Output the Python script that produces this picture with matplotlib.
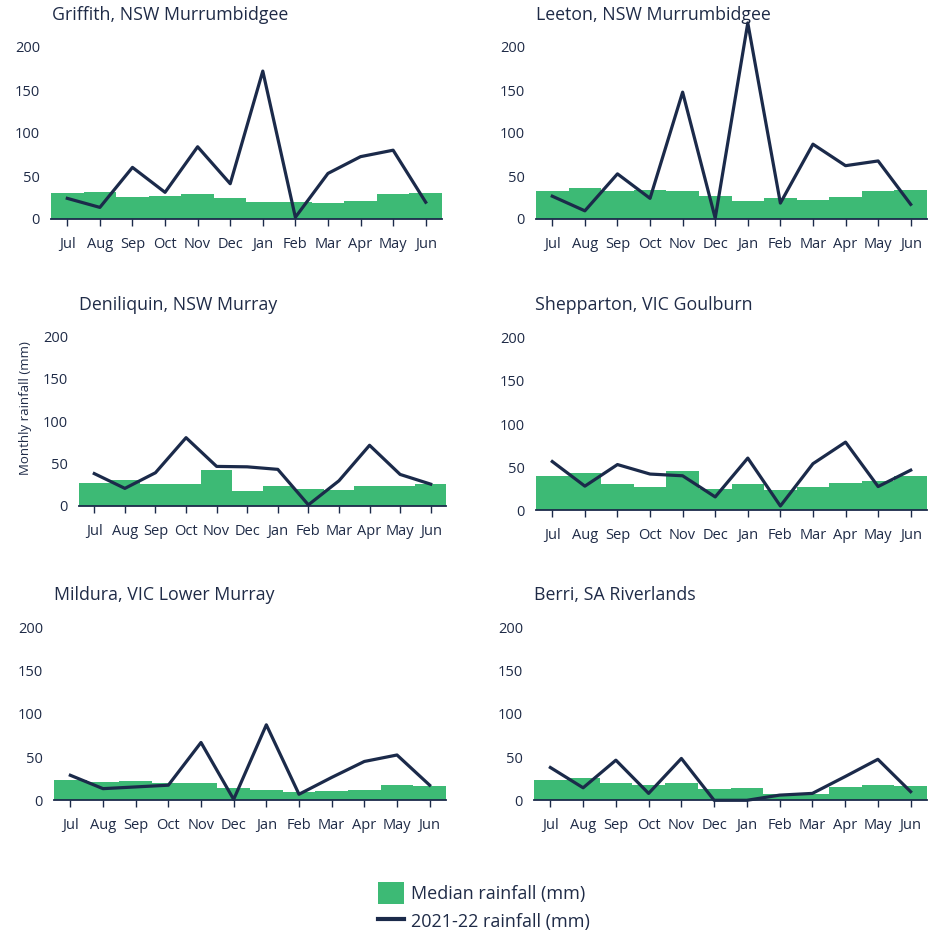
import matplotlib
matplotlib.use("Agg")
import matplotlib.pyplot as plt
from matplotlib.patches import Patch
from matplotlib.lines import Line2D
import numpy as np

plt.rcParams["font.family"] = ["Open Sans", "DejaVu Sans"]

months = ["Jul", "Aug", "Sep", "Oct", "Nov", "Dec", "Jan", "Feb", "Mar", "Apr", "May", "Jun"]

stations = ["Griffith, NSW Murrumbidgee", "Leeton, NSW Murrumbidgee",
            "Deniliquin, NSW Murray", "Shepparton, VIC Goulburn",
            "Mildura, VIC Lower Murray", "Berri, SA Riverlands"]

# median monthly rainfall (mm)
griffith_median = [30, 31, 26, 27, 28.5, 25, 20, 19.5, 19, 21, 29, 30]
leeton_median = [33, 35.5, 32, 34, 32, 26.5, 21, 24, 22.5, 26, 33, 34]
deniliquin_median = [26.5, 31, 25.5, 26, 42, 17.5, 23, 20, 18.5, 23, 23.5, 26]
shepparton_median = [40, 43, 30.5, 27, 45.5, 25, 30.5, 23.5, 26.5, 31.5, 34.5, 40]
mildura_median = [23, 21, 22, 20.5, 19.5, 14, 12.5, 9.5, 11, 12.5, 18, 17]
berri_median = [24, 25.5, 19.5, 18, 19.5, 13, 14, 7.5, 7, 15.5, 17.5, 17]

# 2021-22 monthly rainfall (mm)
griffith_2122 = [24, 13.5, 60, 31, 84, 41, 172, 2, 53, 72.5, 80, 19.5]
leeton_2122 = [26.5, 9.5, 52.5, 24, 147.5, 1, 228, 18.5, 87, 62, 67.5, 17]
deniliquin_2122 = [38, 20.5, 39, 80.5, 46.5, 46, 43, 1, 29.5, 71.5, 37, 25.5]
shepparton_2122 = [56.5, 28, 53, 42, 40, 15.5, 60.5, 5, 54, 79, 27.5, 46.5]
mildura_2122 = [29, 13.5, 15.5, 17.5, 67, 1, 87.5, 7, 26.5, 45, 52.5, 17.5]
berri_2122 = [38, 14.5, 46.5, 8, 48.5, 0, 0, 6, 8, 27.5, 47.5, 10]

medians = [griffith_median, leeton_median, deniliquin_median,
           shepparton_median, mildura_median, berri_median]
actuals = [griffith_2122, leeton_2122, deniliquin_2122,
           shepparton_2122, mildura_2122, berri_2122]

GREEN = "#3dba75"
NAVY = "#1b2a4a"
TEXT = "#1f2b47"

W, H = 935, 934
YTOP = 232

# pixel layout: left, right, y of zero line, px per mm, title x, title y
layout = [
    (51, 442, 219, 0.86, 52, 15),
    (536, 927, 219, 0.86, 536, 15),
    (79, 446, 505.7, 0.845, 79, 305),
    (536, 927, 510.3, 0.863, 535, 305),
    (54, 446, 800.3, 0.863, 54, 595),
    (534, 927, 800.3, 0.863, 534, 595),
]

fig = plt.figure(figsize=(W / 100, H / 100), dpi=100)
x = np.arange(len(months))

for i, (left, right, y0, ppm, tx, ty) in enumerate(layout):
    top = y0 - YTOP * ppm
    ax = fig.add_axes([left / W, 1 - y0 / H, (right - left) / W, (y0 - top) / H])
    ax.bar(x, medians[i], width=1.0, color=GREEN, linewidth=0)
    ax.plot(x, actuals[i], color=NAVY, lw=2.3, clip_on=False, zorder=3)
    ax.set_xlim(-0.5, 11.5)
    ax.set_ylim(0, YTOP)
    ax.set_yticks([0, 50, 100, 150, 200])
    ax.set_xticks(x)
    ax.set_xticklabels(months)
    for s in ["top", "right", "left"]:
        ax.spines[s].set_visible(False)
    ax.spines["bottom"].set_color(NAVY)
    ax.spines["bottom"].set_linewidth(1.3)
    ax.tick_params(axis="y", length=0, pad=8, labelsize=10.5, labelcolor=TEXT)
    ax.tick_params(axis="x", length=5, width=1, color=NAVY, pad=8,
                   labelsize=10.5, labelcolor=TEXT)
    ax.set_facecolor("none")
    fig.text(tx / W, 1 - ty / H, stations[i], fontsize=12.8, color=TEXT,
             ha="left", va="center")
    if i == 2:
        ax.set_ylabel("Monthly rainfall (mm)", fontsize=9.5, color=TEXT, labelpad=8)

handles = [Patch(facecolor=GREEN, edgecolor="none"),
           Line2D([0], [0], color=NAVY, lw=3)]
fig.legend(handles, ["Median rainfall (mm)", "2021-22 rainfall (mm)"],
           loc="center left", bbox_to_anchor=(362 / W, 1 - 907 / H),
           frameon=False, fontsize=13, labelcolor=TEXT,
           handlelength=1.4, handleheight=1.5, handletextpad=0.4,
           labelspacing=0.35)

fig.savefig("out.png", dpi=100)
